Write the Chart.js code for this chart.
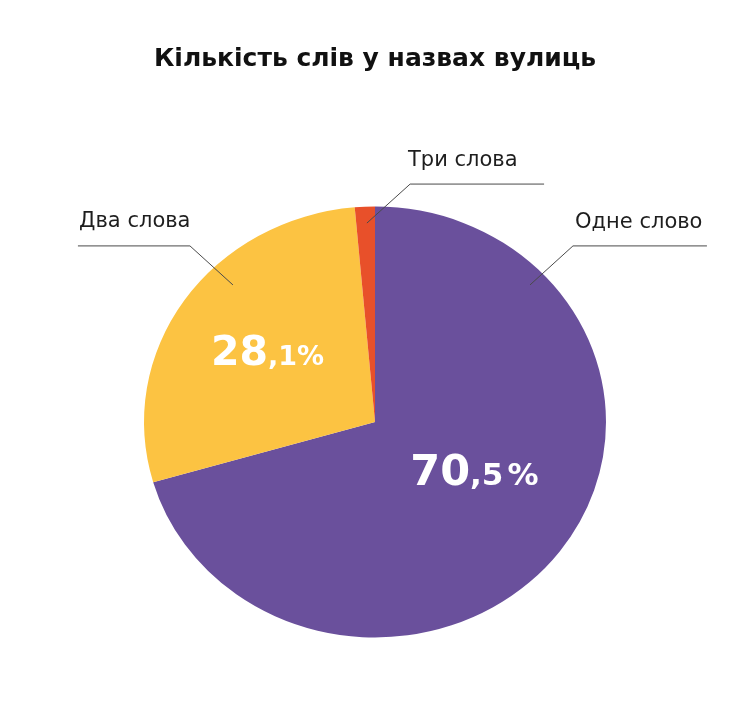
<!DOCTYPE html>
<html><head><meta charset="utf-8">
<script src="https://cdn.jsdelivr.net/npm/chart.js@4/dist/chart.umd.min.js"></script>
<style>html,body{margin:0;padding:0;background:#fff;} #wrap{width:750px;height:720px;}</style>
</head><body><div id="wrap"><canvas id="c" width="750" height="720"></canvas></div>
<script>
// ---- data ----
const chartTitle = 'Кількість слів у назвах вулиць';
const categories = ['Одне слово', 'Два слова', 'Три слова'];
const shares = [70.5, 28.1, 1.4];
const valueLabelShown = [true, true, false];
const sliceColors = ['#6a509c', '#fcc342', '#e8502a'];

// ---- layout (relative to pie centre, in units of the pie radius) ----
const yScale = 0.933;
const FONT = '"DejaVu Sans", "Noto Sans", sans-serif';
const nameLayout = [
  {inside: [0.671, -0.636], knee: [0.857, -0.817], end: 1.437, text: [0.866, -0.900]},
  {inside: [-0.615, -0.636], knee: [-0.801, -0.817], end: -1.286, text: [-1.281, -0.905]},
  {inside: [-0.035, -0.923], knee: [0.152, -1.104], end: 0.732, text: [0.143, -1.188]}
];
const valueLayout = [
  {pos: [0.43, 0.292], big: 43, small: 31, gap: 4},
  {pos: [-0.465, -0.265], big: 41, small: 27, gap: 0}
];

const squash = {
  id: 'squash',
  beforeDatasetsDraw(chart) {
    const a = chart.getDatasetMeta(0).data[0];
    const ctx = chart.ctx;
    ctx.save();
    ctx.translate(a.x, a.y); ctx.scale(1, yScale); ctx.translate(-a.x, -a.y);
  },
  afterDatasetsDraw(chart) { chart.ctx.restore(); }
};

const annotate = {
  id: 'annotate',
  afterDatasetsDraw(chart) {
    const arcs = chart.getDatasetMeta(0).data;
    const cx = arcs[0].x, cy = arcs[0].y, R = arcs[0].outerRadius, Ry = R * yScale;
    const P = (f) => [cx + f[0] * R, cy + f[1] * Ry];
    const ctx = chart.ctx;
    ctx.save();
    categories.forEach((name, i) => {
      const L = nameLayout[i];
      const a = P(L.inside), k = P(L.knee), e = cx + L.end * R;
      ctx.strokeStyle = '#4a4a4a'; ctx.lineWidth = 1;
      ctx.beginPath(); ctx.moveTo(a[0], a[1]); ctx.lineTo(k[0], k[1]); ctx.lineTo(e, k[1]); ctx.stroke();
      const t = P(L.text);
      ctx.fillStyle = '#1e1e1e'; ctx.font = '21px ' + FONT;
      ctx.textAlign = 'left'; ctx.textBaseline = 'alphabetic';
      ctx.fillText(name, t[0], t[1]);
    });
    shares.forEach((v, i) => {
      if (!valueLabelShown[i]) return;
      const L = valueLayout[i];
      const parts = v.toFixed(1).split('.');
      const big = parts[0], mid = ',' + parts[1], pct = '%';
      ctx.fillStyle = '#fff'; ctx.textBaseline = 'alphabetic'; ctx.textAlign = 'left';
      ctx.font = 'bold ' + L.big + 'px ' + FONT;
      const wb = ctx.measureText(big).width;
      ctx.font = 'bold ' + L.small + 'px ' + FONT;
      const wm = ctx.measureText(mid).width, wp = ctx.measureText(pct).width;
      const p = P(L.pos);
      const x0 = p[0] - (wb + wm + L.gap + wp) / 2;
      ctx.font = 'bold ' + L.big + 'px ' + FONT;
      ctx.fillText(big, x0, p[1]);
      ctx.font = 'bold ' + L.small + 'px ' + FONT;
      ctx.fillText(mid, x0 + wb, p[1]);
      ctx.fillText(pct, x0 + wb + wm + L.gap, p[1]);
    });
    ctx.restore();
  }
};

new Chart(document.getElementById('c'), {
  type: 'pie',
  data: {
    labels: categories,
    datasets: [{data: shares, backgroundColor: sliceColors, borderWidth: 0, hoverOffset: 0}]
  },
  options: {
    responsive: false,
    animation: false,
    events: [],
    layout: {padding: {left: 144, right: 144, bottom: 67, top: 0}},
    plugins: {
      legend: {display: false},
      tooltip: {enabled: false},
      title: {
        display: true, text: chartTitle, color: '#111',
        font: {family: FONT, size: 25, weight: 'bold', lineHeight: 1.2},
        padding: {top: 44, bottom: 117}
      }
    }
  },
  plugins: [squash, annotate]
});
</script>
</body></html>
